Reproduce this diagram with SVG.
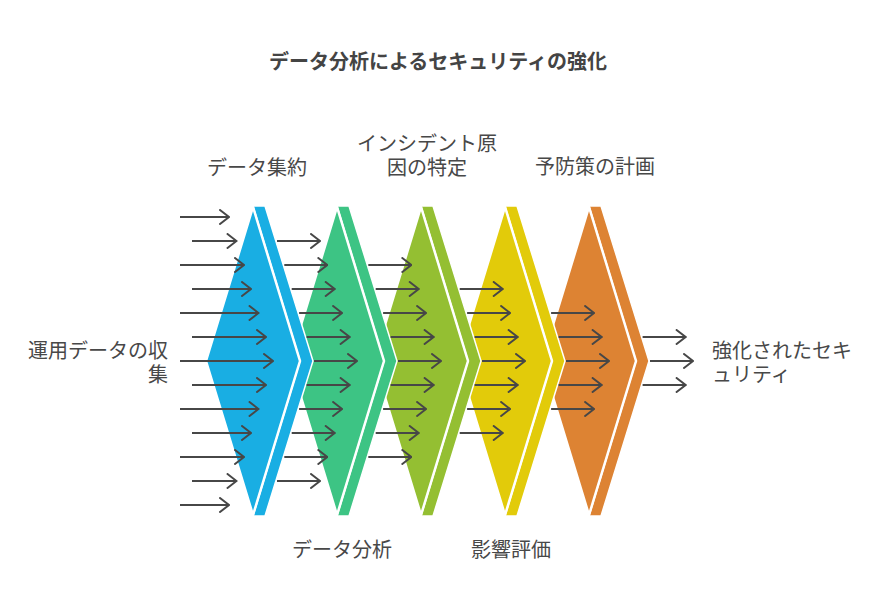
<svg xmlns="http://www.w3.org/2000/svg" width="878" height="614" viewBox="0 0 878 614">
<defs>
<style>
text{font-family:"Noto Sans CJK JP","Noto Sans",sans-serif;fill:#484848;font-size:20px}
.title{font-weight:bold;fill:#444444}
.mid{text-anchor:middle}
.end{text-anchor:end}
.strip{stroke:#ffffff;stroke-width:1.5;stroke-linejoin:miter}
.dia{stroke:#ffffff;stroke-width:2.5;stroke-linejoin:miter}
.arr path{fill:none;stroke:#474747;stroke-width:2;marker-end:url(#ah)}
</style>
<marker id="ah" viewBox="-11 -8 12 16" markerWidth="12" markerHeight="16" refX="0" refY="0" orient="auto" markerUnits="userSpaceOnUse">
<path d="M-9,-7 L0,0 L-9,7" fill="none" stroke="#474747" stroke-width="2" stroke-linecap="round"/>
</marker>
</defs>
<rect width="878" height="614" fill="#ffffff"/>
<text class="title mid" x="438" y="69">データ分析によるセキュリティの強化</text>

<g id="stage5">
<polygon class="strip" fill="#DD8333" points="589,206 601,206 649,361 601,516 589,516 636,361"/>
<polygon class="dia" fill="#DD8333" points="542,361 589,207 636,361 589,515"/>
<text class="mid" x="595" y="174">予防策の計画</text>
</g>
<g id="stage4">
<polygon class="strip" fill="#E2CB0A" points="505,206 517,206 565,361 517,516 505,516 552,361"/>
<polygon class="dia" fill="#E2CB0A" points="458,361 505,207 552,361 505,515"/>
<text class="mid" x="511" y="557">影響評価</text>
</g>
<g id="stage3">
<polygon class="strip" fill="#94BF32" points="421,206 433,206 481,361 433,516 421,516 468,361"/>
<polygon class="dia" fill="#94BF32" points="374,361 421,207 468,361 421,515"/>
<text class="mid" x="427" y="151"><tspan x="427">インシデント原</tspan><tspan x="427" dy="24">因の特定</tspan></text>
</g>
<g id="stage2">
<polygon class="strip" fill="#3DC484" points="337,206 349,206 397,361 349,516 337,516 384,361"/>
<polygon class="dia" fill="#3DC484" points="290,361 337,207 384,361 337,515"/>
<text class="mid" x="342" y="557">データ分析</text>
</g>
<g id="stage1">
<polygon class="strip" fill="#19AEE3" points="253,206 265,206 313,361 265,516 253,516 300,361"/>
<polygon class="dia" fill="#19AEE3" points="206,361 253,207 300,361 253,515"/>
<text class="mid" x="257" y="175">データ集約</text>
</g>

<g id="input">
<text class="end" x="168" y="358"><tspan x="168">運用データの収</tspan><tspan x="168" dy="24">集</tspan></text>
</g>
<g id="output">
<text x="712" y="358"><tspan x="712">強化されたセキ</tspan><tspan x="712" dy="24">ュリティ</tspan></text>
</g>

<g id="connectors" class="arr">
<path d="M180,217H229"/>
<path d="M192,241H236.5"/>
<path d="M180,265H244"/>
<path d="M192,289H251"/>
<path d="M180,313H258.5"/>
<path d="M192,337H266"/>
<path d="M180,361H273"/>
<path d="M192,385H266"/>
<path d="M180,409H258.5"/>
<path d="M192,433H251"/>
<path d="M180,457H244"/>
<path d="M192,481H236.5"/>
<path d="M180,505H229"/>

<path d="M277,241H320"/>
<path d="M284.3,265H327.3"/>
<path d="M291.7,289H334.7"/>
<path d="M299.1,313H342.1"/>
<path d="M306.6,337H349.6"/>
<path d="M314,361H357"/>
<path d="M306.6,385H349.6"/>
<path d="M299.1,409H342.1"/>
<path d="M291.7,433H334.7"/>
<path d="M284.3,457H327.3"/>
<path d="M277,481H320"/>

<path d="M368.3,265H411.3"/>
<path d="M375.7,289H418.7"/>
<path d="M383.1,313H426.1"/>
<path d="M390.6,337H433.6"/>
<path d="M398,361H441"/>
<path d="M390.6,385H433.6"/>
<path d="M383.1,409H426.1"/>
<path d="M375.7,433H418.7"/>
<path d="M368.3,457H411.3"/>

<path d="M459.7,289H502.7"/>
<path d="M467.1,313H510.1"/>
<path d="M474.6,337H517.6"/>
<path d="M482,361H525"/>
<path d="M474.6,385H517.6"/>
<path d="M467.1,409H510.1"/>
<path d="M459.7,433H502.7"/>

<path d="M551.1,313H594.1"/>
<path d="M558.6,337H601.6"/>
<path d="M566,361H609"/>
<path d="M558.6,385H601.6"/>
<path d="M551.1,409H594.1"/>

<path d="M642.6,337H685.6"/>
<path d="M650,361H693"/>
<path d="M642.6,385H685.6"/>
</g>
</svg>
